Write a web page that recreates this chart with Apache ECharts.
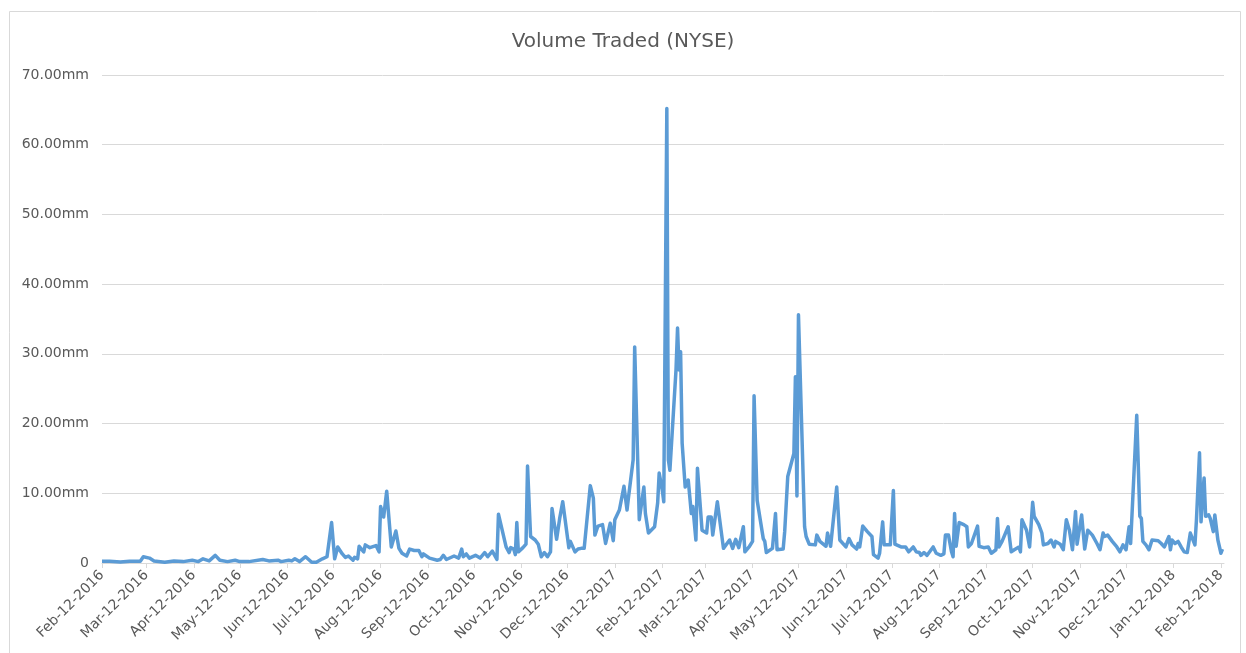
<!DOCTYPE html>
<html>
<head>
<meta charset="utf-8">
<script src="https://cdn.jsdelivr.net/npm/echarts@6/dist/echarts.min.js"></script>
<style>
  html, body { margin: 0; padding: 0; background: #fff; }
  #main { width: 1246px; height: 653px; }
</style>
</head>
<body>
<div id="main"></div>
<script>
// trading dates and volumes (millions)
const dates = [
    '2016-02-12', '2016-02-17', '2016-02-24', '2016-03-01', '2016-03-08', '2016-03-10', '2016-03-14', '2016-03-17', '2016-03-24', '2016-03-30',
    '2016-04-05', '2016-04-11', '2016-04-15', '2016-04-18', '2016-04-22', '2016-04-26', '2016-04-29', '2016-05-04', '2016-05-09', '2016-05-12',
    '2016-05-18', '2016-05-27', '2016-05-31', '2016-06-06', '2016-06-08', '2016-06-13', '2016-06-15', '2016-06-17', '2016-06-20', '2016-06-24',
    '2016-06-28', '2016-07-01', '2016-07-05', '2016-07-08', '2016-07-11', '2016-07-13', '2016-07-15', '2016-07-18', '2016-07-20', '2016-07-22',
    '2016-07-25', '2016-07-26', '2016-07-28', '2016-07-29', '2016-08-01', '2016-08-02', '2016-08-03', '2016-08-05', '2016-08-09', '2016-08-11',
    '2016-08-12', '2016-08-14', '2016-08-16', '2016-08-19', '2016-08-22', '2016-08-24', '2016-08-26', '2016-08-29', '2016-08-31', '2016-09-03',
    '2016-09-06', '2016-09-08', '2016-09-09', '2016-09-13', '2016-09-18', '2016-09-20', '2016-09-22', '2016-09-24', '2016-09-29', '2016-10-02',
    '2016-10-04', '2016-10-05', '2016-10-07', '2016-10-09', '2016-10-13', '2016-10-16', '2016-10-19', '2016-10-21', '2016-10-24', '2016-10-27',
    '2016-10-28', '2016-11-02', '2016-11-04', '2016-11-05', '2016-11-07', '2016-11-08', '2016-11-09', '2016-11-10', '2016-11-13', '2016-11-15',
    '2016-11-16', '2016-11-18', '2016-11-21', '2016-11-23', '2016-11-25', '2016-11-27', '2016-11-29', '2016-12-01', '2016-12-02', '2016-12-05',
    '2016-12-07', '2016-12-09', '2016-12-13', '2016-12-14', '2016-12-15', '2016-12-17', '2016-12-19', '2016-12-21', '2016-12-23', '2016-12-27',
    '2016-12-29', '2016-12-30', '2017-01-01', '2017-01-04', '2017-01-06', '2017-01-09', '2017-01-11', '2017-01-12', '2017-01-15', '2017-01-18',
    '2017-01-20', '2017-01-21', '2017-01-24', '2017-01-25', '2017-01-28', '2017-01-31', '2017-02-01', '2017-02-03', '2017-02-07', '2017-02-09',
    '2017-02-10', '2017-02-12', '2017-02-13', '2017-02-15', '2017-02-16', '2017-02-17', '2017-02-21', '2017-02-22', '2017-02-23', '2017-02-24',
    '2017-02-25', '2017-02-27', '2017-03-01', '2017-03-03', '2017-03-04', '2017-03-06', '2017-03-07', '2017-03-10', '2017-03-13', '2017-03-14',
    '2017-03-16', '2017-03-17', '2017-03-20', '2017-03-24', '2017-03-28', '2017-03-30', '2017-04-01', '2017-04-03', '2017-04-06', '2017-04-07',
    '2017-04-10', '2017-04-12', '2017-04-13', '2017-04-15', '2017-04-19', '2017-04-20', '2017-04-21', '2017-04-25', '2017-04-27', '2017-04-28',
    '2017-05-02', '2017-05-03', '2017-05-04', '2017-05-05', '2017-05-09', '2017-05-10', '2017-05-11', '2017-05-12', '2017-05-16', '2017-05-17',
    '2017-05-19', '2017-05-23', '2017-05-24', '2017-05-26', '2017-05-27', '2017-05-30', '2017-05-31', '2017-06-02', '2017-06-06', '2017-06-08',
    '2017-06-09', '2017-06-12', '2017-06-14', '2017-06-16', '2017-06-19', '2017-06-20', '2017-06-21', '2017-06-23', '2017-06-26', '2017-06-29',
    '2017-06-30', '2017-07-03', '2017-07-04', '2017-07-06', '2017-07-07', '2017-07-11', '2017-07-13', '2017-07-14', '2017-07-18', '2017-07-21',
    '2017-07-23', '2017-07-26', '2017-07-28', '2017-07-30', '2017-07-31', '2017-08-02', '2017-08-04', '2017-08-08', '2017-08-10', '2017-08-13',
    '2017-08-15', '2017-08-16', '2017-08-18', '2017-08-20', '2017-08-21', '2017-08-22', '2017-08-23', '2017-08-25', '2017-08-28', '2017-08-30',
    '2017-08-31', '2017-09-02', '2017-09-06', '2017-09-07', '2017-09-10', '2017-09-13', '2017-09-15', '2017-09-18', '2017-09-19', '2017-09-20',
    '2017-09-22', '2017-09-26', '2017-09-28', '2017-09-30', '2017-10-03', '2017-10-04', '2017-10-05', '2017-10-08', '2017-10-10', '2017-10-12',
    '2017-10-13', '2017-10-16', '2017-10-18', '2017-10-19', '2017-10-22', '2017-10-24', '2017-10-26', '2017-10-27', '2017-10-30', '2017-11-01',
    '2017-11-03', '2017-11-05', '2017-11-07', '2017-11-09', '2017-11-10', '2017-11-13', '2017-11-15', '2017-11-17', '2017-11-20', '2017-11-23',
    '2017-11-25', '2017-11-27', '2017-11-28', '2017-11-30', '2017-12-03', '2017-12-06', '2017-12-08', '2017-12-10', '2017-12-12', '2017-12-14',
    '2017-12-15', '2017-12-19', '2017-12-21', '2017-12-22', '2017-12-23', '2017-12-25', '2017-12-27', '2017-12-29', '2018-01-02', '2018-01-04',
    '2018-01-06', '2018-01-09', '2018-01-10', '2018-01-11', '2018-01-13', '2018-01-15', '2018-01-17', '2018-01-19', '2018-01-21', '2018-01-23',
    '2018-01-24', '2018-01-26', '2018-01-27', '2018-01-29', '2018-01-30', '2018-01-31', '2018-02-01', '2018-02-02', '2018-02-04', '2018-02-05',
    '2018-02-07', '2018-02-08', '2018-02-10', '2018-02-12', '2018-02-13'
];

const volumes = [
    0.25, 0.25, 0.15, 0.25, 0.25, 0.9, 0.7, 0.3, 0.1, 0.3,
    0.2, 0.4, 0.2, 0.6, 0.3, 1.1, 0.4, 0.2, 0.4, 0.2,
    0.2, 0.5, 0.3, 0.4, 0.2, 0.4, 0.3, 0.6, 0.2, 0.9,
    0.1, 0.1, 0.6, 0.9, 5.8, 0.6, 2.3, 1.3, 0.8, 1.0,
    0.4, 0.8, 0.6, 2.4, 1.6, 2.6, 2.4, 2.2, 2.5, 1.6,
    8.1, 6.6, 10.3, 2.3, 4.6, 2.1, 1.4, 1.0, 2.0, 1.8,
    1.8, 0.9, 1.3, 0.7, 0.4, 0.5, 1.1, 0.5, 1.0, 0.7,
    2.0, 0.9, 1.3, 0.7, 1.1, 0.7, 1.5, 0.9, 1.7, 0.5,
    7.0, 2.3, 1.5, 2.2, 2.0, 1.2, 5.8, 1.6, 2.2, 2.7,
    13.9, 3.8, 3.3, 2.7, 0.9, 1.5, 0.9, 1.6, 7.8, 3.4,
    6.4, 8.8, 2.2, 3.1, 2.9, 1.6, 2.0, 2.1, 2.1, 11.1,
    9.3, 4.0, 5.3, 5.5, 2.8, 5.7, 3.2, 6.2, 7.6, 11.0,
    7.6, 9.5, 14.8, 31.0, 6.2, 10.9, 7.1, 4.3, 5.2, 8.6,
    12.9, 10.5, 8.8, 65.2, 14.8, 13.3, 27.7, 33.7, 27.7, 30.3,
    17.2, 10.9, 11.9, 7.1, 8.1, 3.3, 13.6, 4.7, 4.3, 6.6,
    6.6, 4.0, 8.8, 2.1, 3.3, 2.1, 3.4, 2.2, 5.2, 1.6,
    2.4, 3.1, 24.0, 9.0, 3.5, 3.1, 1.5, 2.1, 7.1, 1.9,
    2.0, 4.5, 4.3, 12.4, 15.7, 26.7, 9.6, 35.6, 5.2, 3.8,
    2.7, 2.6, 4.0, 3.1, 3.3, 2.4, 4.3, 2.4, 10.9, 3.3,
    3.3, 2.3, 3.5, 2.6, 2.0, 2.8, 2.3, 5.3, 4.5, 3.8,
    1.2, 0.7, 1.4, 5.9, 2.6, 2.6, 10.4, 2.7, 2.3, 2.3,
    1.6, 2.3, 1.6, 1.5, 1.1, 1.5, 1.1, 2.3, 1.4, 1.1,
    1.3, 4.0, 4.0, 1.6, 0.9, 7.1, 2.4, 5.8, 5.5, 5.2,
    2.3, 2.8, 5.3, 2.4, 2.2, 2.3, 1.4, 1.9, 6.4, 2.3,
    3.1, 5.2, 1.6, 1.9, 2.3, 1.6, 6.2, 4.7, 2.3, 8.7,
    6.7, 5.5, 4.3, 2.6, 2.8, 3.3, 2.3, 3.1, 2.7, 1.9,
    6.2, 4.7, 1.9, 7.4, 2.7, 6.9, 2.0, 4.7, 4.0, 2.8,
    1.9, 4.3, 3.8, 4.0, 3.1, 2.3, 1.6, 2.6, 1.9, 5.2,
    2.8, 21.2, 6.7, 6.4, 3.1, 2.6, 1.9, 3.3, 3.2, 2.8,
    2.3, 3.8, 1.9, 3.3, 2.8, 3.1, 2.3, 1.6, 1.5, 4.3,
    4.5, 2.6, 6.2, 15.8, 5.9, 9.5, 12.2, 6.7, 6.9, 6.4,
    4.5, 6.9, 3.3, 1.4, 2.0
];

const tickLabels = [
    'Feb-12-2016', 'Mar-12-2016', 'Apr-12-2016', 'May-12-2016', 'Jun-12-2016', 'Jul-12-2016', 'Aug-12-2016',
    'Sep-12-2016', 'Oct-12-2016', 'Nov-12-2016', 'Dec-12-2016', 'Jan-12-2017', 'Feb-12-2017', 'Mar-12-2017',
    'Apr-12-2017', 'May-12-2017', 'Jun-12-2017', 'Jul-12-2017', 'Aug-12-2017', 'Sep-12-2017', 'Oct-12-2017',
    'Nov-12-2017', 'Dec-12-2017', 'Jan-12-2018', 'Feb-12-2018'
];

const monthNames = ['Jan', 'Feb', 'Mar', 'Apr', 'May', 'Jun', 'Jul', 'Aug', 'Sep', 'Oct', 'Nov', 'Dec'];

// dates go on a plain value axis as day numbers (UTC), so ticks can sit on the 12th
function dayNumber(y, m, d) {
    return Date.UTC(y, m, d) / 86400000;
}

function parseDate(s) {
    let p = s.split('-');
    return dayNumber(+p[0], +p[1] - 1, +p[2]);
}

function parseTickLabel(label) {
    let p = label.split('-');
    return dayNumber(+p[2], monthNames.indexOf(p[0]), +p[1]);
}

const tickValues = tickLabels.map(parseTickLabel);
const labelByValue = {};
tickValues.forEach(function (v, i) { labelByValue[v] = tickLabels[i]; });

const axisFont = 'DejaVu Sans';
const textColor = '#595959';
const lineColor = '#d9d9d9';

let myChart = echarts.init(document.getElementById('main'));

let option = {
    animation: false,
    title: {
        text: 'Volume Traded (NYSE)',
        left: 'center',
        top: 27,
        textStyle: {
            fontFamily: axisFont,
            fontSize: 20,
            fontWeight: 'normal',
            color: textColor
        }
    },
    graphic: [{
        type: 'rect',
        shape: { x: 9.5, y: 11.5, width: 1231, height: 700 },
        style: { fill: 'none', stroke: lineColor, lineWidth: 1 },
        silent: true
    }],
    grid: {
        left: 102,
        right: 22,
        top: 75,
        bottom: 90
    },
    xAxis: {
        type: 'value',
        min: dayNumber(2016, 1, 12),
        max: dayNumber(2018, 1, 14),
        axisLine: { show: true, onZero: false, lineStyle: { color: lineColor, width: 1 } },
        axisTick: {
            show: true,
            length: 5,
            customValues: tickValues,
            lineStyle: { color: lineColor }
        },
        axisLabel: {
            customValues: tickValues,
            rotate: 45,
            margin: 10,
            fontFamily: axisFont,
            fontSize: 14,
            color: textColor,
            formatter: function (value) {
                return labelByValue[value] || '';
            }
        },
        splitLine: { show: false }
    },
    yAxis: {
        type: 'value',
        min: 0,
        max: 70,
        interval: 10,
        axisLine: { show: false },
        axisTick: { show: false },
        axisLabel: {
            margin: 13,
            fontFamily: axisFont,
            fontSize: 14,
            color: textColor,
            formatter: function (value) {
                return value === 0 ? '0' : value.toFixed(2) + 'mm';
            }
        },
        splitLine: { lineStyle: { color: lineColor, width: 1 } }
    },
    series: [
        {
            type: 'line',
            data: dates.map(function (d, i) { return [parseDate(d), volumes[i]]; }),
            showSymbol: false,
            smooth: false,
            lineStyle: { color: '#5b9bd5', width: 3.5, join: 'round' },
            itemStyle: { color: '#5b9bd5' }
        }
    ]
};

myChart.setOption(option);
</script>
</body>
</html>
